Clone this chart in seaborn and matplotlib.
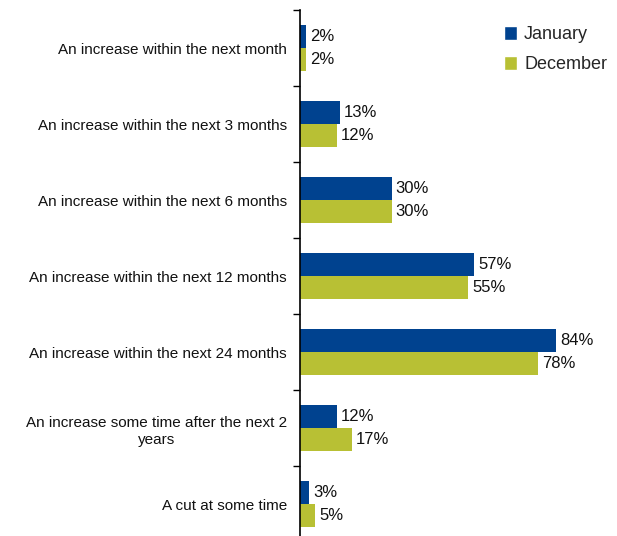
import pandas as pd
import matplotlib.pyplot as plt
import seaborn as sns
from matplotlib.patches import Patch
from matplotlib.ticker import FixedLocator

# --- DATA ---
categories = [
    "An increase within the next month",
    "An increase within the next 3 months",
    "An increase within the next 6 months",
    "An increase within the next 12 months",
    "An increase within the next 24 months",
    "An increase some time after the next 2\nyears",
    "A cut at some time",
]
january = [2, 13, 30, 57, 84, 12, 3]
december = [2, 12, 30, 55, 78, 17, 5]
series = ["January", "December"]
colors = ["#00428f", "#b8c034"]

df = pd.DataFrame({
    "category": categories * 2,
    "value": january + december,
    "series": [series[0]] * len(categories) + [series[1]] * len(categories),
})

# --- PLOT ---
sns.set_style("white")
plt.rcParams["font.family"] = ["Liberation Sans", "DejaVu Sans"]

fig = plt.figure(figsize=(6.17, 5.36), dpi=100)
ax = fig.add_axes([300 / 617, -6 / 536, 305 / 617, 532 / 536])

sns.barplot(data=df, y="category", x="value", hue="series", orient="h",
            palette=colors, saturation=1, width=0.6, ax=ax, legend=False,
            edgecolor="none")

for cont in ax.containers:
    ax.bar_label(cont, fmt="%d%%", padding=3, fontsize=12, color="#111111")

ax.set_xlim(0, 100)
ax.set_ylim(len(categories) - 0.5, -0.5)
ax.set_xlabel("")
ax.set_ylabel("")
ax.set_xticks([])

for s in ["top", "right", "bottom"]:
    ax.spines[s].set_visible(False)
ax.spines["left"].set_color("black")
ax.spines["left"].set_linewidth(1.2)

ax.tick_params(axis="y", which="major", length=0, pad=9.5, labelsize=11,
               labelcolor="#111111")
ax.yaxis.set_minor_locator(FixedLocator([i - 0.5 for i in range(len(categories) + 1)]))
ax.tick_params(axis="y", which="minor", left=True, length=5, width=1, color="black")
for lbl in ax.get_yticklabels():
    lbl.set_multialignment("center")
    lbl.set_linespacing(1.3)

handles = [Patch(facecolor=c, label=s) for c, s in zip(colors, series)]
fig.legend(handles=handles, loc="upper left", bbox_to_anchor=(488 / 617, 1 - 10 / 536),
           frameon=False, fontsize=13, handlelength=0.7, handleheight=0.8,
           handletextpad=0.4, labelspacing=0.7)

fig.savefig("out.png", dpi=100)
